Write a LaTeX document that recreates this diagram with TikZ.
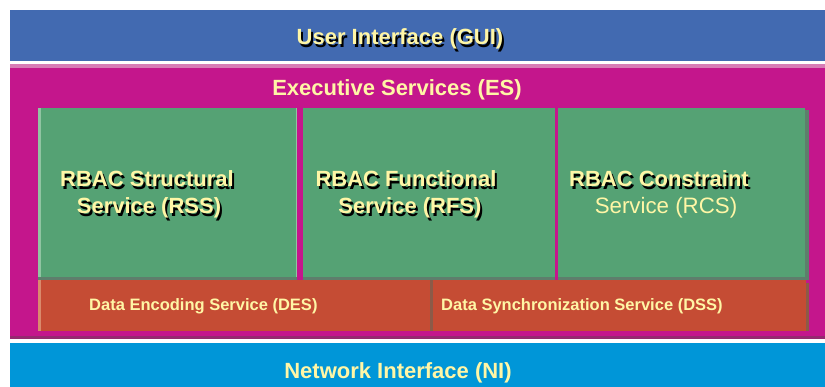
\documentclass[tikz,border=0pt]{standalone}
\usepackage{fontspec}
\setmainfont{Liberation Sans}
\definecolor{guiblue}{HTML}{426AB1}
\definecolor{esmag}{HTML}{C4168C}
\definecolor{esline}{HTML}{D77CB6}
\definecolor{esdark}{HTML}{962A70}
\definecolor{svgreen}{HTML}{55A274}
\definecolor{svedge}{HTML}{5E7E6C}
\definecolor{svlight}{HTML}{90C4A2}
\definecolor{dsred}{HTML}{C54C34}
\definecolor{dsedge}{HTML}{8C5A48}
\definecolor{dslight}{HTML}{D98A6C}
\definecolor{nicyan}{HTML}{0096D8}
\definecolor{cream}{HTML}{FFF6A6}
\begin{document}
\begin{tikzpicture}[x=1pt,y=-1pt,
  block/.style={anchor=north west, inner sep=0pt, outer sep=0pt},
  big/.style={font=\bfseries\fontsize{22}{26}\selectfont, inner sep=0pt, anchor=base},
  bigreg/.style={font=\fontsize{22.3}{26}\selectfont, inner sep=0pt, anchor=base},
  small/.style={font=\bfseries\fontsize{16.5}{19}\selectfont, inner sep=0pt, anchor=base west, text=cream},
  shade/.style={text=black, xshift=2pt, yshift=-3pt},
  face/.style={text=cream}]
\useasboundingbox (0,0) rectangle (825,387);
\fill[white] (0,0) rectangle (825,387);
% layers
\node[block, fill=guiblue, minimum width=815pt, minimum height=51pt] (gui) at (10,10) {};
\node[block, fill=esline, minimum width=815pt, minimum height=4pt] (esl) at (10,64) {};
\node[block, fill=esmag, minimum width=815pt, minimum height=268pt] (es) at (10,68) {};
\node[block, fill=esdark, minimum width=815pt, minimum height=3pt] (esd) at (10,336) {};
\node[block, fill=nicyan, minimum width=815pt, minimum height=44pt] (ni) at (10,343) {};
% green services
\node[block, fill=svgreen, minimum width=259pt, minimum height=169pt] (rss) at (38,108) {};
\node[block, fill=svgreen, minimum width=252pt, minimum height=169pt] (rfs) at (303,108) {};
\node[block, fill=svgreen, minimum width=247pt, minimum height=169pt] (rcs) at (558,108) {};
\fill[svlight] (38,108) rectangle (40.5,277);
\fill[svlight] (295.5,108) rectangle (297,277);
\fill[svedge] (38,277) rectangle (297,280);
\fill[svedge] (303,277) rectangle (555,280);
\fill[svedge] (558,277) rectangle (805,280);
\fill[svedge] (805,110) rectangle (808.5,280);
% data services
\node[block, fill=dsred, minimum width=392pt, minimum height=51pt] (des) at (38,280) {};
\node[block, fill=dsred, minimum width=373pt, minimum height=51pt] (dss) at (433,280) {};
\fill[dsedge] (430,280) rectangle (433,331);
\fill[dslight] (38,280) rectangle (41,331);
\fill[dsedge] (806,283) rectangle (809,331);
% titles
\node[big, shade] (gui-s) at (400,45) {User Interface (GUI)};
\node[big, face] (gui-t) at (400,45) {User Interface (GUI)};
\node[big, face] (es-t) at (397,96) {Executive Services (ES)};
\node[big, face] (ni-t) at (398,379) {Network Interface (NI)};
% service labels
\node[big, shade] (rss-s1) at (147,187) {RBAC Structural};
\node[big, face] (rss-t1) at (147,187) {RBAC Structural};
\node[big, shade] (rss-s2) at (149,214) {Service (RSS)};
\node[big, face] (rss-t2) at (149,214) {Service (RSS)};
\node[big, shade] (rfs-s1) at (406,187) {RBAC Functional};
\node[big, face] (rfs-t1) at (406,187) {RBAC Functional};
\node[big, shade] (rfs-s2) at (410,214) {Service (RFS)};
\node[big, face] (rfs-t2) at (410,214) {Service (RFS)};
\node[big, shade] (rcs-s1) at (659,187) {RBAC Constraint};
\node[big, face] (rcs-t1) at (659,187) {RBAC Constraint};
\node[bigreg, face] (rcs-t2) at (666,214) {Service (RCS)};
% data labels
\node[small] (des-t) at (89,311) {Data Encoding Service (DES)};
\node[small] (dss-t) at (441,311) {Data Synchronization Service (DSS)};
\end{tikzpicture}
\end{document}
